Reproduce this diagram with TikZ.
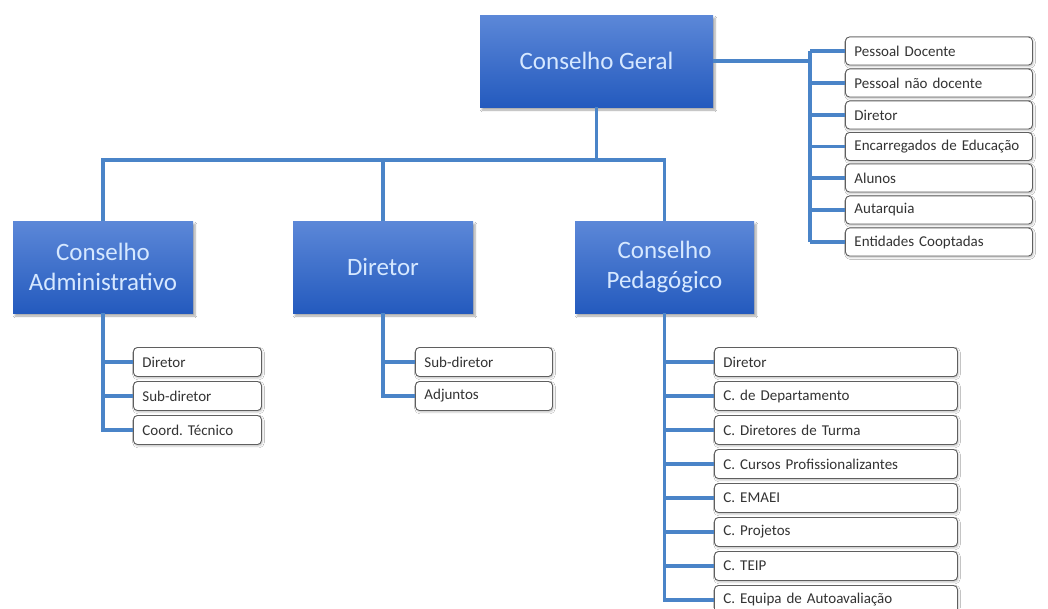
\documentclass[tikz,border=0pt]{standalone}
\usepackage{fontspec}
\setmainfont{Carlito}
\frenchspacing
\hyphenpenalty=10000
\usetikzlibrary{shadows.blur}
\definecolor{linecol}{RGB}{74,132,200}
\definecolor{boxtop}{RGB}{92,136,216}
\definecolor{boxbot}{RGB}{36,90,190}
\definecolor{boxtxt}{RGB}{214,232,255}
\definecolor{sborder}{RGB}{95,95,95}
\tikzset{
  bigbox/.style={top color=boxtop, bottom color=boxbot, draw=none, text=boxtxt,
    font=\fontsize{25}{30}\selectfont, align=center, minimum height=92pt,
    inner sep=0pt, blur shadow={shadow xshift=2pt, shadow yshift=-3pt, shadow blur steps=6, shadow opacity=35}},
  sbox/.style={draw=sborder, line width=0.9pt, rounded corners=4pt, fill=white,
    minimum height=29pt, inner xsep=9pt, inner ysep=0pt, anchor=west, align=left,
    font=\fontsize{15}{18}\selectfont, text=black!80,
    blur shadow={shadow xshift=1pt, shadow yshift=-1.5pt, shadow blur steps=3, shadow opacity=25}},
  conn/.style={draw=linecol, line width=3.2pt},
}
\begin{document}
\begin{tikzpicture}[x=1pt,y=-1pt]
\useasboundingbox[fill=white] (0,0) rectangle (1048,608);
% main boxes
\node[bigbox, minimum width=233pt] (cg) at (596.5,61) {Conselho Geral};
\node[bigbox, minimum width=180pt] (ca) at (103,267) {Conselho\\Administrativo};
\node[bigbox, minimum width=180pt] (di) at (383,267) {Diretor};
\node[bigbox, minimum width=179pt] (cp) at (664.5,267) {Conselho\\Pedagógico};
% bus
\coordinate (bus) at (596.5,160);
\draw[conn] (cg.south) -- (cg.south |- bus);
\draw[conn] (ca.north) -- (ca.north |- bus) -- (cp.north |- bus) -- (cp.north);
\draw[conn] (di.north) -- (di.north |- bus);
% right list
\foreach \i/\y/\t in {1/51/Pessoal Docente, 2/83/Pessoal não docente, 3/115/Diretor,
  4/146.5/Encarregados de Educação, 5/178/Alunos, 6/210/Autarquia, 7/242/Entidades Cooptadas}{
  \node[sbox, minimum height=28pt, text width=169pt] (r\i) at (845,\y) {\t};
}
\coordinate (trR) at (810,61);
\draw[conn] (cg.east) -- (trR);
\draw[conn] (trR |- r1.west) -- (trR |- r7.west);
\foreach \i in {1,...,7}{ \draw[conn] (trR |- r\i.west) -- (r\i.west); }
% left sub list
\foreach \i/\y/\t in {1/362/Diretor, 2/396/Sub-diretor, 3/430/Coord. Técnico}{
  \node[sbox, text width=110pt] (a\i) at (133,\y) {\t};
}
\draw[conn] (ca.south) -- (ca.south |- a3.west) -- (a3.west);
\foreach \i in {1,2}{ \draw[conn] (ca.south |- a\i.west) -- (a\i.west); }
% diretor sub list
\foreach \i/\y/\t in {1/362/Sub-diretor, 2/396/Adjuntos}{
  \node[sbox, text width=119pt] (d\i) at (415,\y) {\t};
}
\draw[conn] (di.south) -- (di.south |- d2.west) -- (d2.west);
\draw[conn] (di.south |- d1.west) -- (d1.west);
% pedagogico sub list
\foreach \i/\y/\t in {1/362/Diretor, 2/396/C. de Departamento, 3/430/C. Diretores de Turma,
  4/464/C. Cursos Profissionalizantes, 5/498/C. EMAEI, 6/532/C. Projetos, 7/566/C. TEIP,
  8/600/C. Equipa de Autoavaliação}{
  \node[sbox, text width=225pt] (p\i) at (714,\y) {\t};
}
\draw[conn] (cp.south) -- (cp.south |- p8.west) -- (p8.west);
\foreach \i in {1,...,7}{ \draw[conn] (cp.south |- p\i.west) -- (p\i.west); }
\end{tikzpicture}
\end{document}
